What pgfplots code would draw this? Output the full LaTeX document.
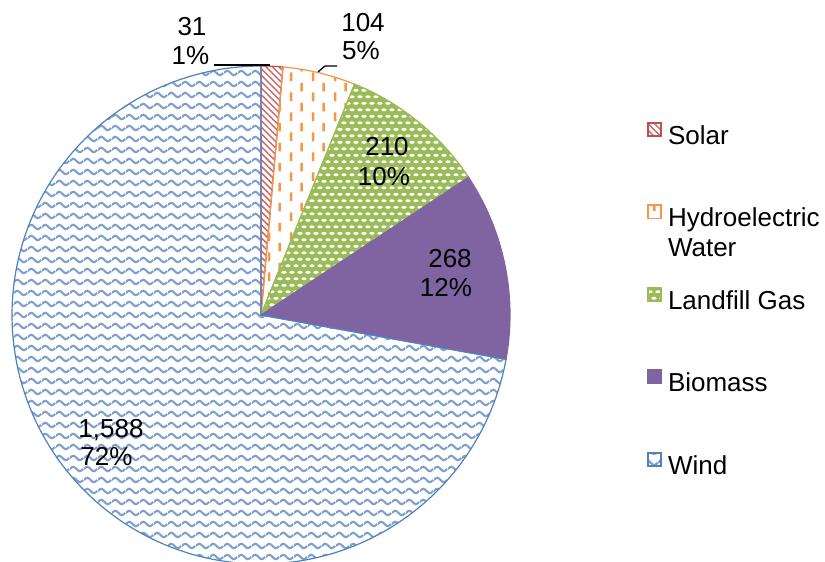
\documentclass[border=0pt]{standalone}
\usepackage{pgfplots}
\pgfplotsset{compat=1.18}
\usepackage{fontspec}
\setmainfont{Liberation Sans}
\usetikzlibrary{patterns,patterns.meta}

\definecolor{cSolar}{HTML}{C0504D}
\definecolor{cHydro}{HTML}{F79646}
\definecolor{cLand}{HTML}{9BBB59}
\definecolor{cBio}{HTML}{8064A2}
\definecolor{cWind}{HTML}{4F81BD}

\pgfdeclarepattern{name=xwave, type=uncolored,
  bottom left={\pgfpoint{0pt}{0pt}}, top right={\pgfpoint{14pt}{10.5pt}},
  tile size={\pgfpoint{14pt}{10.5pt}},
  code={
    \pgfsetlinewidth{2.2pt}
    \pgfpathmoveto{\pgfpoint{0pt}{5.25pt}}
    \pgfpathsine{\pgfpoint{3.5pt}{2.3pt}}
    \pgfpathcosine{\pgfpoint{3.5pt}{-2.3pt}}
    \pgfpathsine{\pgfpoint{3.5pt}{-2.3pt}}
    \pgfpathcosine{\pgfpoint{3.5pt}{2.3pt}}
    \pgfusepath{stroke}
  }}
\pgfdeclarepattern{name=xdash, type=uncolored,
  bottom left={\pgfpoint{0pt}{0pt}}, top right={\pgfpoint{22pt}{20pt}},
  tile size={\pgfpoint{22pt}{20pt}},
  code={
    \pgfpathrectangle{\pgfpoint{4pt}{1pt}}{\pgfpoint{2.6pt}{9pt}}
    \pgfpathrectangle{\pgfpoint{15pt}{11pt}}{\pgfpoint{2.6pt}{9pt}}
    \pgfusepath{fill}
  }}
\pgfdeclarepattern{name=xoval, type=uncolored,
  bottom left={\pgfpoint{0pt}{0pt}}, top right={\pgfpoint{8.4pt}{13.4pt}},
  tile size={\pgfpoint{8.4pt}{13.4pt}},
  code={
    \pgfpathellipse{\pgfpoint{4.2pt}{3.35pt}}{\pgfpoint{2.8pt}{0pt}}{\pgfpoint{0pt}{1.5pt}}
    \pgfpathellipse{\pgfpoint{0pt}{10.05pt}}{\pgfpoint{2.8pt}{0pt}}{\pgfpoint{0pt}{1.5pt}}
    \pgfpathellipse{\pgfpoint{8.4pt}{10.05pt}}{\pgfpoint{2.8pt}{0pt}}{\pgfpoint{0pt}{1.5pt}}
    \pgfusepath{fill}
  }}

% data (MWh)
\def\vSolar{31}
\def\vHydro{104}
\def\vLand{210}
\def\vBio{268}
\def\vWind{1588}

\pgfmathsetmacro\tot{\vSolar+\vHydro+\vLand+\vBio+\vWind}
\pgfmathsetmacro\aA{90}
\pgfmathsetmacro\aB{\aA-\vSolar/\tot*360}
\pgfmathsetmacro\aC{\aB-\vHydro/\tot*360}
\pgfmathsetmacro\aD{\aC-\vLand/\tot*360}
\pgfmathsetmacro\aE{\aD-\vBio/\tot*360}
\pgfmathsetmacro\aF{\aE-\vWind/\tot*360}

\def\cx{261}
\def\cy{247}
\def\rr{249}

\begin{document}
\fontsize{26pt}{29.5pt}\selectfont
\begin{tikzpicture}
\useasboundingbox (0,0) rectangle (825pt,562pt);
\begin{axis}[
  at={(0,0)}, anchor=south west,
  width=825pt, height=562pt, scale only axis,
  xmin=0, xmax=825, ymin=0, ymax=562,
  hide axis, clip=false,
  legend image code/.code={\draw[#1,line width=1.8pt] (0.9pt,1.9pt) rectangle (14.1pt,15.1pt);},
  legend cell align=left,
  legend style={at={(axis cs:647,440)}, anchor=north west, draw=none, fill=none,
    inner sep=0pt, outer sep=0pt, row sep=54pt, column sep=6pt,
    font=\fontsize{26pt}{29.5pt}\selectfont,
    nodes={inner sep=0pt, text height=19pt, text depth=6pt}},
]
\addplot[draw=cSolar, line width=1.2pt, pattern={Lines[angle=-45,distance=4.6pt,line width=1.5pt]}, pattern color=cSolar!85,
  domain=\aB:\aA, samples=20, variable=\t]
  ({\cx+\rr*cos(t)},{\cy+\rr*sin(t)}) -- (axis cs:\cx,\cy) -- cycle;
\addlegendentry{Solar}
\addplot[draw=cHydro, line width=1.2pt, pattern=xdash, pattern color=cHydro,
  domain=\aC:\aB, samples=30, variable=\t]
  ({\cx+\rr*cos(t)},{\cy+\rr*sin(t)}) -- (axis cs:\cx,\cy) -- cycle;
\addlegendentry{\smash{\parbox[t]{7cm}{Hydroelectric\\Water}}}
\addplot[draw=cLand, line width=1.2pt, preaction={fill=cLand}, pattern=xoval, pattern color=white,
  domain=\aD:\aC, samples=40, variable=\t]
  ({\cx+\rr*cos(t)},{\cy+\rr*sin(t)}) -- (axis cs:\cx,\cy) -- cycle;
\addlegendentry{Landfill Gas}
\addplot[draw=cBio, line width=1.2pt, fill=cBio,
  domain=\aE:\aD, samples=40, variable=\t]
  ({\cx+\rr*cos(t)},{\cy+\rr*sin(t)}) -- (axis cs:\cx,\cy) -- cycle;
\addlegendentry{Biomass}
\addplot[draw=cWind, line width=1.2pt, pattern=xwave, pattern color=cWind!75,
  domain=\aF:\aE, samples=150, variable=\t]
  ({\cx+\rr*cos(t)},{\cy+\rr*sin(t)}) -- (axis cs:\cx,\cy) -- cycle;
\addlegendentry{Wind}

% leader lines
\draw[black, line width=1.8pt] (axis cs:214,497) -- (axis cs:270,497);
\draw[black, line width=1.3pt] (axis cs:318,490) -- (axis cs:325,496) -- (axis cs:337,496);

% data labels
\node[anchor=base, inner sep=0pt] at (axis cs:192,526) {31};
\node[anchor=base, inner sep=0pt] at (axis cs:190.5,497) {1\%};
\node[anchor=base, inner sep=0pt] at (axis cs:363,530) {104};
\node[anchor=base, inner sep=0pt] at (axis cs:361,502) {5\%};
\node[anchor=base, inner sep=0pt] at (axis cs:387,406) {210};
\node[anchor=base, inner sep=0pt] at (axis cs:384,376) {10\%};
\node[anchor=base, inner sep=0pt] at (axis cs:450,294) {268};
\node[anchor=base, inner sep=0pt] at (axis cs:446,265) {12\%};
\node[anchor=base, inner sep=0pt] at (axis cs:111,124) {1,588};
\node[anchor=base, inner sep=0pt] at (axis cs:106.5,96) {72\%};
\end{axis}
\end{tikzpicture}
\end{document}
